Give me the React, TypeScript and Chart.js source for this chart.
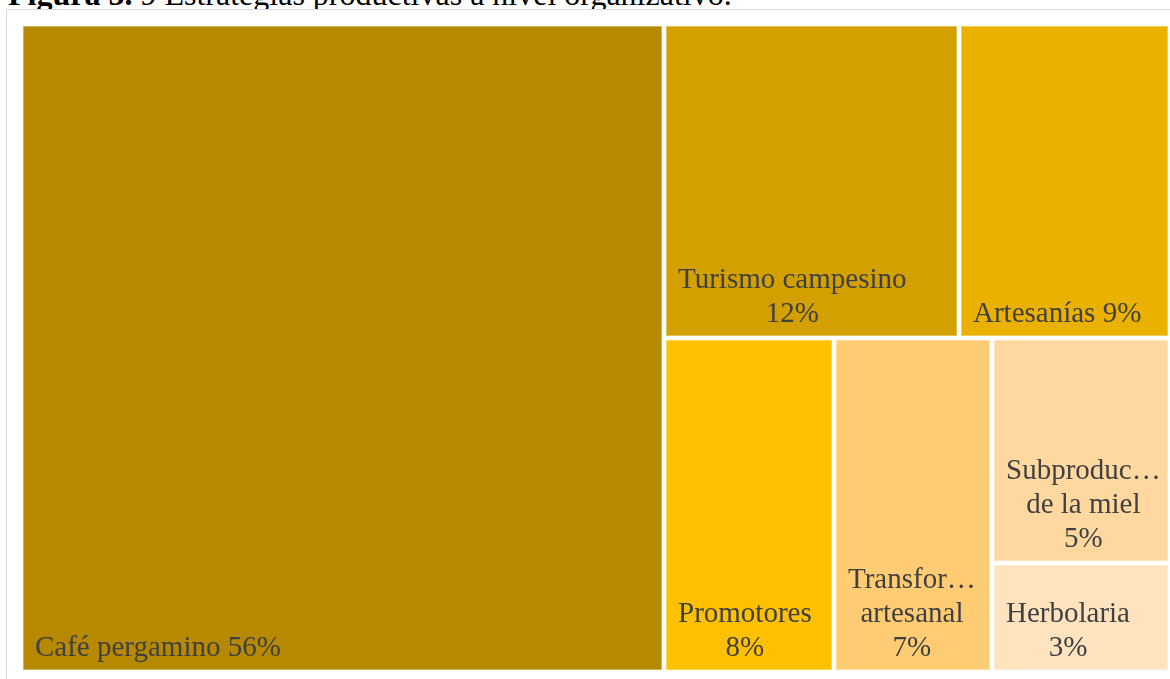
import React, { useEffect, useRef } from "react";
import { Chart, registerables } from "chart.js";

Chart.register(...registerables);

// ---- data ----
const categories = [
  "Café pergamino",
  "Turismo campesino",
  "Artesanías",
  "Promotores",
  "Transformación artesanal",
  "Subproductos de la miel",
  "Herbolaria",
];
const values = [56.0, 12.4, 8.9, 7.6, 7.1, 5.4, 2.6];
const colors = ["#B68900", "#D4A000", "#EAB100", "#FFC000", "#FFCC73", "#FFD89F", "#FFE3BF"];
// nesting of the cells (indices into categories); each level alternates split direction
type Node = number | Node[];
const groups: Node[] = [0, [[1, 2], [3, 4, [5, 6]]]];
const titleBold = "Figura 5.";
const titleRest = " 9 Estrategias productivas a nivel organizativo.";

const total = values.reduce((a, b) => a + b, 0);

function sumNode(n: Node): number {
  return typeof n === "number" ? values[n] : n.reduce((s: number, c) => s + sumNode(c), 0);
}

type R = { x0: number; y0: number; x1: number; y1: number };
function layout(n: Node, x0: number, y0: number, x1: number, y1: number, horiz: boolean, out: R[]) {
  if (typeof n === "number") {
    out[n] = { x0, y0, x1, y1 };
    return;
  }
  const t = sumNode(n);
  let acc = 0;
  for (const c of n) {
    const v = sumNode(c);
    if (horiz) {
      layout(c, x0 + ((x1 - x0) * acc) / t, y0, x0 + ((x1 - x0) * (acc + v)) / t, y1, !horiz, out);
    } else {
      layout(c, x0, y0 + ((y1 - y0) * acc) / t, x1, y0 + ((y1 - y0) * (acc + v)) / t, !horiz, out);
    }
    acc += v;
  }
}

function lighten(hex: string, f: number) {
  const r = parseInt(hex.slice(1, 3), 16), g = parseInt(hex.slice(3, 5), 16), b = parseInt(hex.slice(5, 7), 16);
  const m = (c: number) => Math.round(c + (255 - c) * f);
  return `rgb(${m(r)},${m(g)},${m(b)})`;
}

function wrapLines(ctx: CanvasRenderingContext2D, text: string, avail: number): string[] {
  const words = text.split(" ").map((w) => {
    if (ctx.measureText(w).width <= avail) return w;
    let s = w;
    while (s.length > 1 && ctx.measureText(s + "…").width > avail) s = s.slice(0, -1);
    return s + "…";
  });
  const lines: string[] = [];
  let cur = "";
  for (const w of words) {
    const cand = cur ? cur + " " + w : w;
    if (!cur || ctx.measureText(cand).width <= avail) cur = cand;
    else {
      lines.push(cur);
      cur = w;
    }
  }
  if (cur) lines.push(cur);
  return lines;
}

const treemapPlugin = {
  id: "treemapCells",
  afterDatasetsDraw(chart: any) {
    const { ctx } = chart;
    const xs = chart.scales.x, ys = chart.scales.y;
    const rects: R[] = [];
    layout(groups, 0, 0, 1, 1, true, rects);
    ctx.save();
    rects.forEach((r, i) => {
      const L = Math.round(xs.getPixelForValue(r.x0)) + 2;
      const Rr = Math.round(xs.getPixelForValue(r.x1)) - 2;
      const T = Math.round(ys.getPixelForValue(r.y0)) + 2;
      const B = Math.round(ys.getPixelForValue(r.y1)) - 2;
      ctx.fillStyle = colors[i];
      ctx.fillRect(L, T, Rr - L, B - T);
      ctx.strokeStyle = lighten(colors[i], 0.35);
      ctx.lineWidth = 1;
      ctx.strokeRect(L + 0.5, T + 0.5, Rr - L - 1, B - T - 1);

      // label
      ctx.font = "29px 'Liberation Serif', 'Times New Roman', serif";
      ctx.fillStyle = "#404040";
      const avail = Rr - L - 18;
      const pct = Math.round((values[i] / total) * 100) + "%";
      const nameLines = wrapLines(ctx, categories[i], avail);
      let lines: string[];
      if (nameLines.length === 1 && ctx.measureText(nameLines[0] + " " + pct).width <= avail) {
        lines = [nameLines[0] + " " + pct];
      } else {
        lines = [...nameLines, pct];
      }
      const bw = Math.max(...lines.map((l) => ctx.measureText(l).width));
      const cx = L + 12 + bw / 2;
      ctx.textAlign = "center";
      ctx.textBaseline = "alphabetic";
      const lastBase = B - 14;
      lines.forEach((l, k) => {
        ctx.fillText(l, cx, lastBase - (lines.length - 1 - k) * 34);
      });
    });
    ctx.restore();
  },
};

export default function App() {
  const ref = useRef<HTMLCanvasElement | null>(null);
  useEffect(() => {
    if (!ref.current) return;
    const chart = new Chart(ref.current, {
      type: "scatter",
      data: { datasets: [{ data: [] }] },
      options: {
        animation: false,
        responsive: true,
        maintainAspectRatio: false,
        layout: { padding: { left: 21, top: 24, right: 0, bottom: 7 } },
        scales: {
          x: { type: "linear", min: 0, max: 1, display: false },
          y: { type: "linear", min: 0, max: 1, reverse: true, display: false },
        },
        plugins: { legend: { display: false }, tooltip: { enabled: false }, title: { display: false } },
      },
      plugins: [treemapPlugin],
    } as any);
    return () => chart.destroy();
  }, []);

  return (
    <div
      style={{
        position: "absolute",
        left: 0,
        top: 0,
        width: 1170,
        height: 679,
        overflow: "hidden",
        background: "#fff",
      }}
    >
      <div
        style={{
          position: "absolute",
          left: 8,
          top: -24,
          fontFamily: "'Liberation Serif', 'Times New Roman', serif",
          fontSize: 32,
          whiteSpace: "nowrap",
          color: "#000",
        }}
      >
        <b>{titleBold}</b>
        {titleRest}
      </div>
      <div
        style={{
          position: "absolute",
          left: 6,
          top: 9,
          width: 1200,
          height: 700,
          border: "1px solid #d9d9d9",
          boxSizing: "border-box",
          background: "#fff",
        }}
      />
      <div style={{ position: "absolute", left: 0, top: 0, width: 1170, height: 679 }}>
        <canvas ref={ref} />
      </div>
    </div>
  );
}
